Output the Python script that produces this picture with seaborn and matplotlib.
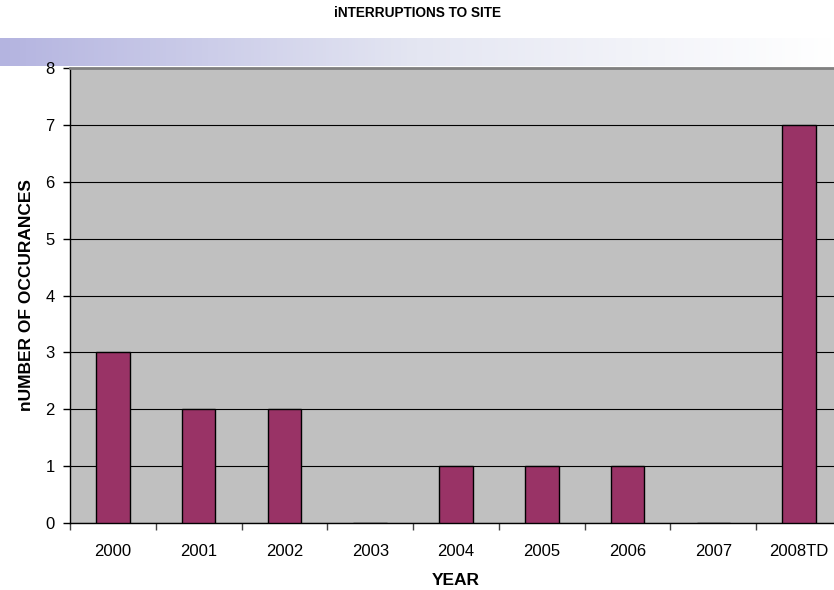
import numpy as np
import pandas as pd
import matplotlib
matplotlib.use("Agg")
import matplotlib.pyplot as plt
import seaborn as sns
from matplotlib.colors import LinearSegmentedColormap

years = ["2000", "2001", "2002", "2003", "2004", "2005", "2006", "2007", "2008TD"]
occurrences = [3, 2, 2, 0, 1, 1, 1, 0, 7]
y_ticks = [0, 1, 2, 3, 4, 5, 6, 7, 8]

df = pd.DataFrame({"year": years, "count": occurrences})

sns.set_style("white")
plt.rcParams["font.family"] = ["Liberation Sans", "DejaVu Sans"]
plt.rcParams.update({"text.color": "black", "axes.labelcolor": "black",
                     "xtick.color": "black", "ytick.color": "black"})

fig = plt.figure(figsize=(8.34, 5.9), dpi=100)

# faded header band behind the top of the plot
band = fig.add_axes([0, 1 - 66 / 590, 1, 28 / 590])
cmap = LinearSegmentedColormap.from_list("band", ["#b4b4e0", "#e4e6f2", "#ffffff"])
band.imshow(np.linspace(0, 1, 256)[None, :], aspect="auto", cmap=cmap,
            extent=[0, 1, 0, 1])
band.set_axis_off()

# plot area runs slightly past the right edge of the figure
ax = fig.add_axes([70 / 834, 1 - 523 / 590, 772 / 834, 455 / 590])
ax.set_facecolor("#c0c0c0")

sns.barplot(data=df, x="year", y="count", color="#993366", width=0.39,
            edgecolor="black", linewidth=1.0, saturation=1, ax=ax, zorder=3)

ax.set_ylim(0, 8)
ax.set_yticks(y_ticks)
ax.set_xlim(-0.5, len(years) - 0.5)
ax.yaxis.grid(True, color="black", linewidth=0.8, zorder=1)
ax.set_axisbelow(True)

# category boundary ticks below the axis
ax.set_xticks(np.arange(len(years)))
ax.set_xticklabels(years)
ax.set_xticks(np.arange(len(years) + 1) - 0.5, minor=True)
ax.tick_params(axis="x", which="major", bottom=False, length=0, labelsize=12, pad=15)
ax.tick_params(axis="x", which="minor", bottom=True, length=5, color="#444444",
               width=1, direction="out")
ax.tick_params(axis="y", left=True, length=5, width=1, color="black",
               labelsize=12, pad=6, direction="out")

for side in ["left", "bottom"]:
    ax.spines[side].set_color("black")
    ax.spines[side].set_linewidth(1.0)
ax.spines["top"].set_color("#808080")
ax.spines["top"].set_linewidth(2.0)
ax.spines["right"].set_visible(False)

ax.set_xlabel("YEAR", fontsize=12.5, fontweight="bold", labelpad=10)
ax.set_ylabel("nUMBER OF OCCURANCES", fontsize=12.5, fontweight="bold", labelpad=8)

fig.text(0.5, 1 - 13 / 590, "iNTERRUPTIONS TO SITE", ha="center", va="center",
         fontsize=9.8, fontweight="bold")

fig.savefig("out.png", dpi=100)
